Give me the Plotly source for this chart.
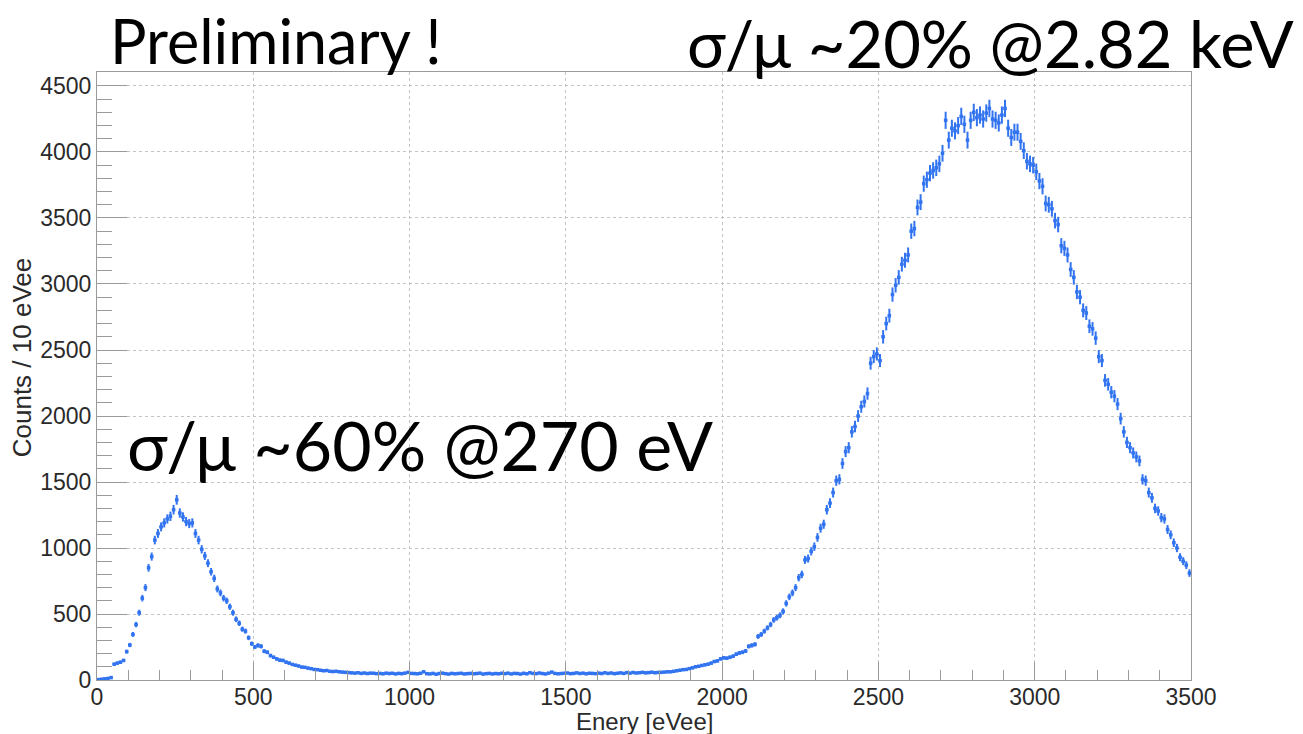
import numpy as np
import plotly.graph_objects as go

# Energy histogram, 10 eVee bins from 0 to 3500 eVee
bin_width = 10
x_min, x_max = 0, 3500

counts = [
    3, 6, 9, 12, 18, 120, 128, 135, 148, 215,
    265, 345, 420, 510, 620, 700, 850, 935, 1060, 1110,
    1160, 1190, 1220, 1240, 1290, 1365, 1265, 1235, 1200, 1185,
    1190, 1110, 1060, 990, 940, 885, 820, 770, 690, 660,
    620, 600, 555, 510, 460, 430, 385, 370, 320, 275,
    250, 262, 255, 218, 210, 185, 172, 160, 150, 148,
    135, 128, 118, 112, 106, 98, 96, 90, 86, 80,
    78, 74, 70, 72, 66, 64, 66, 62, 60, 58,
    56, 54, 52, 55, 50, 53, 49, 52, 51, 48,
    50, 47, 52, 49, 51, 46, 50, 48, 52, 58,
    50, 49, 47, 51, 62, 48, 46, 50, 44, 49,
    52, 48, 45, 50, 47, 49, 51, 46, 48, 50,
    47, 49, 52, 45, 48, 50, 46, 49, 47, 51,
    48, 52, 46, 50, 49, 45, 51, 47, 55, 50,
    48, 53, 49, 46, 52, 60, 50, 47, 49, 51,
    53, 48, 50, 54, 49, 52, 47, 51, 50, 48,
    52, 49, 55, 50, 53, 48, 51, 54, 50, 56,
    52, 57, 53, 55, 58, 54, 56, 59, 55, 57,
    58, 60, 62, 62, 66, 70, 74, 78, 80, 86,
    92, 100, 104, 110, 115, 120, 128, 140, 145, 160,
    168, 165, 172, 180, 195, 205, 210, 220, 255, 262,
    270, 330, 345, 370, 395, 420, 455, 472, 490, 520,
    580, 630, 660, 700, 775, 800, 910, 920, 975, 1010,
    1080, 1150, 1180, 1290, 1340, 1420, 1510, 1520, 1640, 1730,
    1760, 1880, 1920, 2000, 2070, 2110, 2170, 2400, 2450, 2470,
    2420, 2600, 2700, 2760, 2920, 2990, 3050, 3150, 3180, 3220,
    3400, 3420, 3580, 3620, 3760, 3790, 3840, 3860, 3880, 3910,
    3990, 4240, 4090, 4180, 4160, 4200, 4270, 4210, 4090, 4240,
    4300, 4260, 4280, 4250, 4295, 4330, 4250, 4240, 4220, 4280,
    4330, 4180, 4110, 4150, 4150, 4080, 4010, 3930, 3910, 3900,
    3850, 3780, 3740, 3610, 3600, 3570, 3480, 3450, 3290, 3270,
    3220, 3110, 3050, 2940, 2900, 2800, 2780, 2680, 2660, 2590,
    2450, 2420, 2270, 2240, 2180, 2150, 2090, 1980, 1880, 1800,
    1760, 1720, 1690, 1660, 1520, 1510, 1420, 1380, 1300, 1280,
    1230, 1220, 1140, 1100, 1040, 1000, 930, 900, 870, 810,
]

x_title = "Enery [eVee]"
y_title = "Counts / 10 eVee"
note_top_left = "Preliminary !"
note_top_right = "σ/μ ~20% @2.82 keV"
note_low_peak = "σ/μ ~60% @270 eV"

counts = np.array(counts, dtype=float)
centers = x_min + bin_width * (np.arange(len(counts)) + 0.5)
errors = np.sqrt(counts)

blue = "#3274f0"
axis_grey = "#9a9a9a"
label_family = "Liberation Sans, Arial, sans-serif"
tick_font = dict(family=label_family, size=23, color="#2a2a2a")
note_family = "Lato, Noto Sans, sans-serif"

fig = go.Figure()
fig.add_trace(go.Scatter(
    x=centers, y=counts, mode="markers",
    marker=dict(symbol="square", size=3.5, color=blue),
    error_x=dict(type="constant", value=bin_width / 2, width=0, thickness=2, color=blue),
    error_y=dict(type="data", array=errors, width=0, thickness=2, color=blue),
    showlegend=False,
))

fig.update_layout(
    width=1303, height=734,
    margin=dict(l=97, r=112, t=72, b=54),
    paper_bgcolor="white", plot_bgcolor="white",
    font=tick_font,
)
fig.update_xaxes(
    range=[x_min, x_max], dtick=500, tick0=0,
    showline=True, linecolor=axis_grey, linewidth=1.2, mirror=True,
    ticks="inside", ticklen=18, tickcolor=axis_grey, tickwidth=1.2,
    minor=dict(dtick=100, ticks="inside", ticklen=10, tickcolor=axis_grey, tickwidth=1.2, showgrid=False),
    showgrid=True, gridcolor="#c4c4c4", griddash="dot", gridwidth=1,
    zeroline=False, tickfont=tick_font, automargin=False, ticklabelstandoff=-4,
)
fig.update_yaxes(
    range=[0, 4606], dtick=500, tick0=0,
    showline=True, linecolor=axis_grey, linewidth=1.2, mirror=True,
    ticks="inside", ticklen=30, tickcolor=axis_grey, tickwidth=1.2,
    minor=dict(dtick=100, ticks="inside", ticklen=15, tickcolor=axis_grey, tickwidth=1.2, showgrid=False),
    showgrid=True, gridcolor="#c4c4c4", griddash="dot", gridwidth=1,
    zeroline=False, tickfont=tick_font, automargin=False,
)

# Axis titles placed just outside the frame
fig.add_annotation(text=x_title, xref="paper", yref="paper", x=0.5, y=-0.068,
                   xanchor="center", yanchor="middle", showarrow=False,
                   font=dict(family=label_family, size=24, color="#2a2a2a"))
fig.add_annotation(text=y_title, xref="paper", yref="paper", x=-0.069, y=0.53,
                   xanchor="center", yanchor="middle", textangle=-90, showarrow=False,
                   font=dict(family=label_family, size=26, color="#2a2a2a"))

# Slide-style notes
fig.add_annotation(text=note_top_left, xref="paper", yref="paper", x=0.01, y=1.052,
                   xanchor="left", yanchor="middle", showarrow=False,
                   font=dict(family=note_family, size=61, color="#000000"))
fig.add_annotation(text=note_top_right, xref="paper", yref="paper", x=1.096, y=1.048,
                   xanchor="right", yanchor="middle", showarrow=False,
                   font=dict(family=note_family, size=65, color="#000000"))
fig.add_annotation(text=note_low_peak, xref="paper", yref="paper", x=0.026, y=0.388,
                   xanchor="left", yanchor="middle", showarrow=False,
                   font=dict(family=note_family, size=68, color="#000000"))

fig.write_html("out.html")
